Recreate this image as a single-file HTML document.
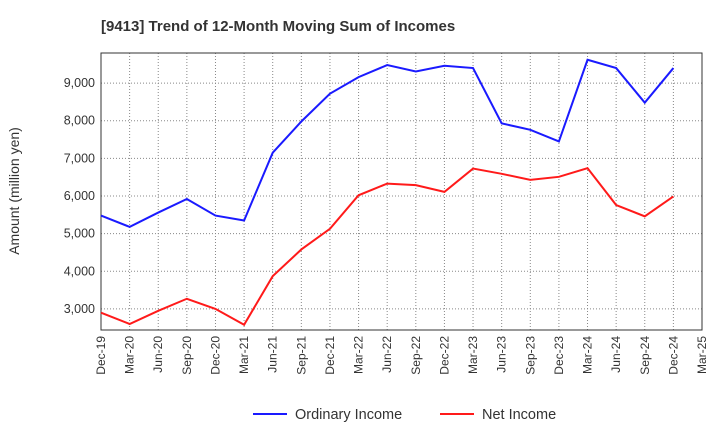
<!DOCTYPE html>
<html><head><meta charset="utf-8"><style>
body{margin:0;background:#fff;font-family:"Liberation Sans",sans-serif;}
</style></head><body>
<svg width="720" height="440" xmlns="http://www.w3.org/2000/svg">
<text x="101" y="31" font-size="15" font-weight="bold" fill="#333">[9413]  Trend of 12-Month Moving Sum of Incomes</text>
<g id="grid"></g>
<rect x="101" y="53" width="601" height="277" fill="none" stroke="#333" stroke-width="1"/>
<g id="yticks"></g><g id="xticks"></g><g id="series"></g>
<text transform="translate(19,191) rotate(-90)" text-anchor="middle" font-size="14" fill="#333">Amount (million yen)</text>
<g>
<line x1="253" y1="414" x2="287" y2="414" stroke="#1a1aff" stroke-width="2"/>
<text x="295" y="419" font-size="14.5" fill="#333">Ordinary Income</text>
<line x1="440" y1="414" x2="474" y2="414" stroke="#ff1a1a" stroke-width="2"/>
<text x="482" y="419" font-size="14.5" fill="#333">Net Income</text>
</g>
</svg>
<script>
const categories=["Dec-19","Mar-20","Jun-20","Sep-20","Dec-20","Mar-21","Jun-21","Sep-21","Dec-21","Mar-22","Jun-22","Sep-22","Dec-22","Mar-23","Jun-23","Sep-23","Dec-23","Mar-24","Jun-24","Sep-24","Dec-24","Mar-25"];
const ordinaryIncome=[5480,5180,5560,5920,5480,5350,7150,7980,8720,9160,9480,9310,9460,9400,7930,7760,7450,9620,9400,8480,9400];
const netIncome=[2900,2600,2950,3270,3000,2580,3870,4580,5130,6020,6330,6290,6110,6730,6590,6430,6510,6740,5760,5460,5990];
const yTicks=[3000,4000,5000,6000,7000,8000,9000];
const NS="http://www.w3.org/2000/svg";
const x0=101,x1=702,y0=330,y1=53,vmin=2440,vmax=9800;
const xs=i=>x0+i*(x1-x0)/(categories.length-1);
const ys=v=>y0-(v-vmin)/(vmax-vmin)*(y0-y1);
function mk(t,a,p){const e=document.createElementNS(NS,t);for(const k in a)e.setAttribute(k,a[k]);p.appendChild(e);return e;}
const grid=document.getElementById('grid'),yt=document.getElementById('yticks'),xt=document.getElementById('xticks'),se=document.getElementById('series');
yTicks.forEach(v=>{
 const l=mk('line',{x1:x0,x2:x1,y1:ys(v),y2:ys(v),stroke:'#888','stroke-dasharray':'1,2','stroke-width':1},grid);
 
 
 const t=mk('text',{x:x0-6,y:ys(v)+4,'text-anchor':'end','font-size':12.5,fill:'#333'},yt);
 t.textContent=v.toLocaleString('en-US');
 
 
});
categories.forEach((c,i)=>{
 const x=xs(i);
 if(i>0&&i<categories.length-1){const l=mk('line',{x1:x,x2:x,y1:y1,y2:y0,stroke:'#888','stroke-dasharray':'1,2','stroke-width':1},grid);
 
 }
 const t=mk('text',{transform:`translate(${x+4},${y0+6}) rotate(-90)`,'text-anchor':'end','font-size':12,fill:'#333'},xt);
 t.textContent=c;
 
 
});
function line(d,col,name){
 const p=mk('polyline',{points:d.map((v,i)=>xs(i)+','+ys(v)).join(' '),fill:'none',stroke:col,'stroke-width':2},se);
 
 
}
line(ordinaryIncome,'#1a1aff','ordinary-income-line');
line(netIncome,'#ff1a1a','net-income-line');
</script>
</body></html>
